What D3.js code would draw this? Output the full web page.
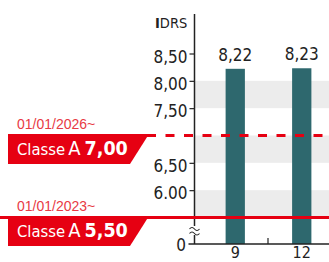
<!DOCTYPE html>
<html>
<head>
<meta charset="utf-8">
<script src="https://cdn.jsdelivr.net/npm/d3@7"></script>
<style>
  body { margin: 0; background: #fff; }
  svg { display: block; }
  .narrow { font-family: "Liberation Sans Narrow", "Arial Narrow", "DejaVu Sans Condensed", sans-serif; }
  .tickText { font-size: 17px; fill: #222; }
</style>
</head>
<body>
<div class="chart"></div>
<script>
// Chart data
var categories = ["9", "12"];
var values = [8.22, 8.23];
var valueLabels = ["8,22", "8,23"];

var tickValues = [8.5, 8.0, 7.5, 6.5, 6.0];
var tickLabels = ["8,50", "8,00", "7,50", "6,50", "6.00"];

// grey bands on the plot area
var bandFrom = [7.5, 6.5, 5.5];
var bandTo = [8.0, 7.0, 6.0];

// red threshold lines
var thresholdValues = [7.0, 5.5];
var thresholdLabels = ["7,00", "5,50"];
var thresholdDates = ["01/01/2026~", "01/01/2023~"];
var thresholdDashed = [true, false];

var w = 329, h = 262;
var axisX = 194.5, baseY = 244, axisTop = 14;
var red = "#e60012";

var svg = d3.select(".chart")
  .append("svg")
  .attr("width", w)
  .attr("height", h);

// Scales (y axis is broken between 0 and 5,50)
var x = d3.scaleBand()
  .domain(categories)
  .range([202, 335])
  .paddingInner(0.71)
  .paddingOuter(0.355);

var y = d3.scaleLinear()
  .domain([0, 5.5, 8.5])
  .range([baseY, 217.5, 53.5]);

// Grey bands
svg.selectAll(".band")
  .data(bandFrom)
  .enter()
  .append("rect")
  .attr("class", "band")
  .attr("x", axisX)
  .attr("width", w - axisX)
  .attr("y", function(d, i) { return y(bandTo[i]); })
  .attr("height", function(d, i) { return y(d) - y(bandTo[i]); })
  .style("fill", "#ececec");

// Bars
svg.selectAll(".bar")
  .data(values)
  .enter()
  .append("rect")
  .attr("class", "bar")
  .attr("x", function(d, i) { return x(categories[i]); })
  .attr("width", x.bandwidth())
  .attr("y", function(d) { return y(d); })
  .attr("height", function(d) { return baseY - y(d); })
  .style("fill", "#2e686e");

// Value labels
svg.selectAll(".valueText")
  .data(values)
  .enter()
  .append("text")
  .attr("class", "narrow tickText")
  .attr("x", function(d, i) { return x(categories[i]) + x.bandwidth() / 2; })
  .attr("y", function(d) { return y(d) - 8; })
  .attr("text-anchor", "middle")
  .text(function(d, i) { return valueLabels[i]; });

// Y axis
var yAxis = d3.axisLeft(y)
  .tickValues(tickValues)
  .tickSize(5)
  .tickPadding(2)
  .tickFormat(function(d, i) { return tickLabels[i]; });

var gy = svg.append("g")
  .attr("transform", "translate(" + axisX + ",0)")
  .call(yAxis);
gy.select(".domain").remove();
gy.selectAll("line").style("stroke", "#222").style("stroke-width", 1.2);
gy.selectAll("text")
  .attr("class", "narrow tickText")
  .attr("dy", "0.5em")
  .style("font-size", null)
  .style("font-family", null);

svg.append("line")
  .attr("x1", axisX).attr("x2", axisX)
  .attr("y1", axisTop).attr("y2", baseY)
  .style("stroke", "#222")
  .style("stroke-width", 1.5);

// zero tick and label
svg.append("text")
  .attr("class", "narrow tickText")
  .attr("x", 186)
  .attr("y", y(0))
  .attr("dy", "0.4em")
  .attr("text-anchor", "end")
  .text("0");

// X axis
svg.append("line")
  .attr("x1", axisX - 6).attr("x2", w)
  .attr("y1", baseY).attr("y2", baseY)
  .style("stroke", "#222")
  .style("stroke-width", 1.5);

svg.append("line")
  .attr("x1", x("12") - x.step() * x.paddingInner() / 2 - 0.5)
  .attr("x2", x("12") - x.step() * x.paddingInner() / 2 - 0.5)
  .attr("y1", baseY - 6).attr("y2", baseY)
  .style("stroke", "#222")
  .style("stroke-width", 1.2);

svg.selectAll(".catText")
  .data(categories)
  .enter()
  .append("text")
  .attr("class", "narrow tickText")
  .attr("x", function(d) { return x(d) + x.bandwidth() / 2; })
  .attr("y", 258)
  .style("font-size", "16px")
  .attr("text-anchor", "middle")
  .text(function(d) { return d; });

// Axis break symbol
svg.append("rect")
  .attr("x", axisX - 6).attr("y", 226)
  .attr("width", 12).attr("height", 9)
  .style("fill", "#fff");
[228, 232.5].forEach(function(yy) {
  svg.append("path")
    .attr("d", "M" + (axisX - 5) + "," + (yy + 1) +
               " q2.5,-3 5,0 t5,0")
    .style("fill", "none")
    .style("stroke", "#222")
    .style("stroke-width", 1.1);
});

// IDRS unit label
var unit = svg.append("text")
  .attr("class", "narrow")
  .attr("x", 155)
  .attr("y", 28)
  .style("font-size", "14.5px")
  .style("fill", "#222");
unit.append("tspan").style("font-weight", "bold").text("I");
unit.append("tspan").text("DRS");

// Threshold lines and tags
thresholdValues.forEach(function(v, i) {
  var ly = y(v);

  svg.append("line")
    .attr("x1", thresholdDashed[i] ? 147 : 0)
    .attr("x2", w)
    .attr("y1", ly).attr("y2", ly)
    .style("stroke", red)
    .style("stroke-width", 3.2)
    .style("stroke-dasharray", thresholdDashed[i] ? "9,9.5" : null);

  var top = ly - 1.5;
  svg.append("path")
    .attr("d", "M8," + top + " L149," + top + " L130," + (top + 30) + " L8," + (top + 30) + " Z")
    .style("fill", red);

  var tag = svg.append("text")
    .attr("class", "narrow")
    .attr("x", 17)
    .attr("y", top + 20.5)
    .style("fill", "#fff");
  tag.append("tspan").style("font-size", "16.5px").text("Classe");
  tag.append("tspan").attr("dx", 3).style("font-size", "20px").text("A");
  tag.append("tspan").attr("dx", 4).style("font-size", "19.5px").style("font-weight", "bold").text(thresholdLabels[i]);

  svg.append("text")
    .attr("x", 17)
    .attr("y", ly - 6.5)
    .style("font-family", "'Liberation Sans', sans-serif")
    .style("font-size", "14px")
    .style("fill", "#e83a44")
    .text(thresholdDates[i]);
});
</script>
</body>
</html>
